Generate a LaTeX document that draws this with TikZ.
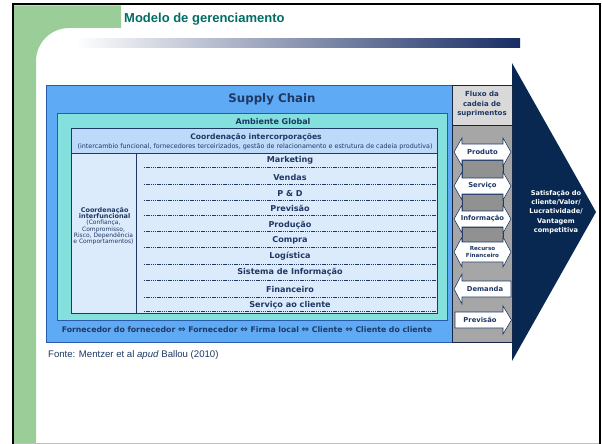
\documentclass[tikz,border=0pt]{standalone}
\usepackage{fontspec}
\setmainfont{DejaVu Sans}
\newfontfamily\arialf{Liberation Sans}
\definecolor{navy}{RGB}{31,56,100}
\definecolor{bignavy}{RGB}{8,40,82}
\definecolor{slidegreen}{RGB}{155,205,152}
\definecolor{titleteal}{RGB}{0,110,100}
\definecolor{scblue}{RGB}{95,170,245}
\definecolor{scborder}{RGB}{40,90,170}
\definecolor{envteal}{RGB}{132,224,220}
\definecolor{hdrblue}{RGB}{190,218,250}
\definecolor{bodyblue}{RGB}{220,235,252}
\definecolor{greyhdr}{RGB}{217,217,217}
\definecolor{greybody}{RGB}{166,166,166}
\definecolor{greyrect}{RGB}{145,145,145}
\definecolor{barmid}{RGB}{175,180,195}
\definecolor{barnavy}{RGB}{25,45,100}
\newcommand{\myfs}[2]{\fontsize{#1pt}{#2pt}\selectfont}
\begin{document}
\begin{tikzpicture}[x=1pt,y=-1pt,
  boldtxt/.style={font=\bfseries, text=navy, inner sep=0pt},
  regtxt/.style={text=navy, inner sep=0pt},
  rowlabel/.style={font=\myfs{8.1}{9}\bfseries, text=navy, inner sep=0pt},
  rowline/.style={navy, line width=0.6pt, dash pattern=on 1.4pt off 0.8pt},
  flowarrow/.style={fill=white, draw=navy, line width=0.6pt, line join=miter},
  flowlabel/.style={font=\myfs{6.8}{7.5}\bfseries, text=navy, inner sep=0pt, align=center},
  flowrect/.style={fill=greyrect, draw=navy, line width=0.6pt}]
\useasboundingbox (0,0) rectangle (602,444);
\fill[white] (0,0) rectangle (602,444);
% slide decoration
\fill[slidegreen] (14,5.5) -- (121,5.5) -- (121,28) -- (69,28)
  .. controls (50.8,28) and (36,42.8) .. (36,61) -- (36,443) -- (14,443) -- cycle;
\draw[black, line width=2pt] (13,444) -- (13,4.5) -- (600,4.5) -- (600,444);
\draw[black!25, line width=1pt] (14,443.5) -- (599,443.5);
\node[anchor=west, inner sep=0pt, text=titleteal, font=\arialf\bfseries\myfs{13}{15}] (title) at (124,19) {Modelo de gerenciamento};
\shade[left color=white, middle color=barmid, right color=barnavy] (75,39) rectangle (520,47.5);
% big arrow
\fill[bignavy] (512,63) -- (596,212) -- (512,361) -- cycle;
\node[font=\myfs{6.6}{9.3}\bfseries, text=white, align=center, inner sep=0pt] (goal) at (556,212)
  {Satisfação do\\cliente/Valor/\\Lucratividade/\\Vantagem\\competitiva};
% supply chain box
\fill[scblue, draw=scborder, line width=0.8pt] (46,85) rectangle (452,342);
\node[boldtxt, font=\myfs{11.8}{13}\bfseries] (sc) at (272,99) {Supply Chain};
\fill[envteal, draw=scborder, line width=0.6pt] (57,113) rectangle (447,320);
\node[boldtxt, font=\myfs{8}{9}\bfseries] (env) at (273,121.5) {Ambiente Global};
\fill[bodyblue, draw=navy, line width=0.6pt] (71,128) rectangle (437,313);
\fill[hdrblue] (71.3,128.3) rectangle (436.7,153);
\draw[navy, line width=0.6pt] (71,128) rectangle (437,313);
\draw[navy, line width=0.6pt] (71,153) -- (437,153);
\draw[navy, line width=0.6pt] (136,153) -- (136,313);
\node[boldtxt, font=\myfs{7.6}{8.5}\bfseries] (inter) at (256,137) {Coordenação intercorporações};
\node[regtxt, font=\myfs{6.4}{7}] (intersub) at (255,146.5) {(intercambio funcional, fornecedores terceirizados, gestão de relacionamento e estrutura de cadeia produtiva)};
\node[regtxt, align=center, font=\myfs{6}{6.3}] (func) at (103.5,226)
  {{\bfseries\myfs{6.5}{7.5} Coordenação}\\{\bfseries\myfs{6.5}{7.5} interfuncional}\\(Confiança,\\Compromisso,\\Risco, Dependência\\e Comportamentos)};
% rows
\node[rowlabel] (r1) at (290,160.5) {Marketing};
\node[rowlabel] (r2) at (290,177.5) {Vendas};
\node[rowlabel] (r3) at (290,194) {P \& D};
\node[rowlabel] (r4) at (290,208.5) {Previsão};
\node[rowlabel] (r5) at (290,225) {Produção};
\node[rowlabel] (r6) at (290,240) {Compra};
\node[rowlabel] (r7) at (290,256.5) {Logística};
\node[rowlabel] (r8) at (290,272.5) {Sistema de Informação};
\node[rowlabel] (r9) at (290,289.5) {Financeiro};
\node[rowlabel] (r10) at (290,305.5) {Serviço ao cliente};
\foreach \yy in {167.5,184,200,215,231.5,247,264,280,297,311.5}
  \draw[rowline] (144,\yy) -- (436,\yy);
\node[boldtxt, font=\myfs{7.75}{9}\bfseries] (chain) at (247,329.5)
  {Fornecedor do fornecedor {\myfs{9}{9}⇔} Fornecedor {\myfs{9}{9}⇔} Firma local {\myfs{9}{9}⇔} Cliente {\myfs{9}{9}⇔} Cliente do cliente};
% flow column
\fill[greybody, draw=navy!70!black, line width=0.6pt] (452,85) rectangle (512,342);
\fill[greyhdr, draw=navy!70!black, line width=0.6pt] (452,85) rectangle (512,125);
\node[boldtxt, align=center, font=\myfs{7}{9.5}\bfseries] (fluxo) at (482,104.5) {Fluxo da\\cadeia de\\suprimentos};
% connecting rects
\draw[flowrect] (462,160) rectangle (503,178);
\draw[flowrect] (462,194) rectangle (503,211);
\draw[flowrect] (462,227) rectangle (503,242);
% double arrows
\foreach \cy/\bh/\hh in {152/8/14,186/8/14,219/8/14,252/10/15}{
  \draw[flowarrow] (454,\cy) -- (462,\cy-\hh) -- (462,\cy-\bh) -- (503,\cy-\bh) -- (503,\cy-\hh)
    -- (511,\cy) -- (503,\cy+\hh) -- (503,\cy+\bh) -- (462,\cy+\bh) -- (462,\cy+\hh) -- cycle;
}
\draw[flowarrow] (454,289) -- (462,274) -- (462,281) -- (511,281) -- (511,297) -- (462,297) -- (462,304) -- cycle;
\draw[flowarrow] (455,312) -- (503,312) -- (503,306) -- (511.5,320) -- (503,334) -- (503,328) -- (455,328) -- cycle;
\node[flowlabel] (f1) at (482.5,152) {Produto};
\node[flowlabel] (f2) at (482.5,186) {Serviço};
\node[flowlabel] (f3) at (482.5,219) {Informação};
\node[flowlabel, font=\myfs{5.6}{7}\bfseries] (f4) at (482.5,252) {Recurso\\Financeiro};
\node[flowlabel] (f5) at (485,289) {Demanda};
\node[flowlabel] (f6) at (480,320) {Previsão};
% source
\node[anchor=west, inner sep=0pt, text=navy, font=\arialf\myfs{9.6}{11}] (fonte) at (48,355)
  {Fonte: Mentzer et al \textit{apud} Ballou (2010)};
\end{tikzpicture}
\end{document}
